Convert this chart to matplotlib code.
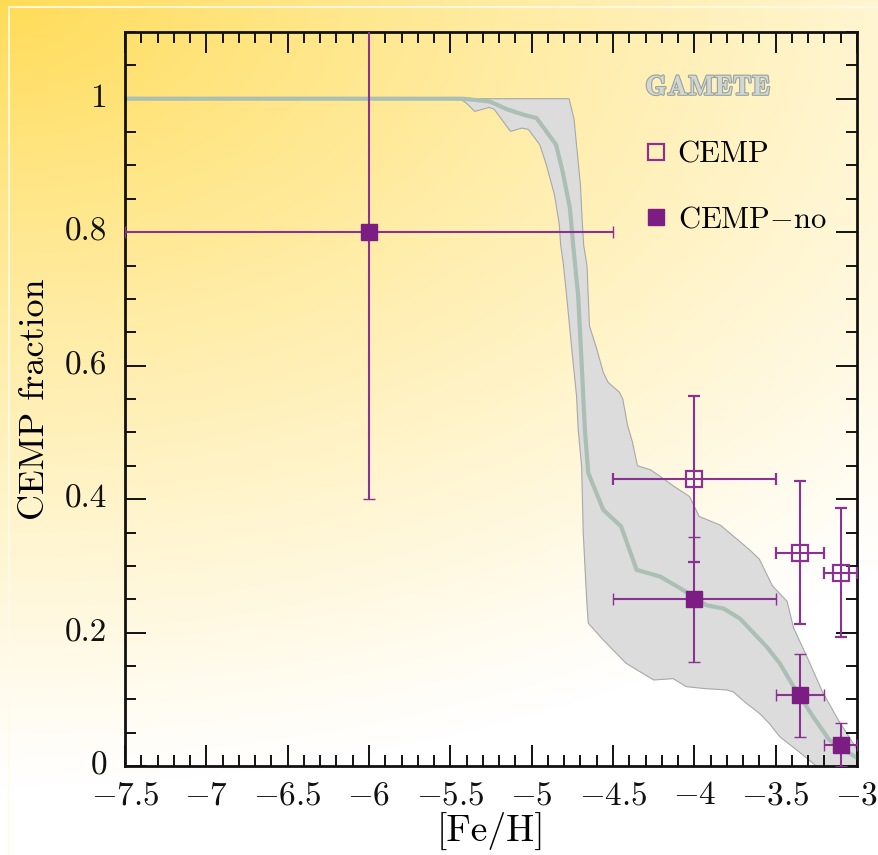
import numpy as np
import matplotlib
matplotlib.use('Agg')
import matplotlib.pyplot as plt
import matplotlib.patheffects as pe
from matplotlib.lines import Line2D
from matplotlib.ticker import MultipleLocator

plt.rcParams['font.family'] = 'cmr10'
plt.rcParams['mathtext.fontset'] = 'cm'
plt.rcParams['axes.unicode_minus'] = False

# observed CEMP fractions (open squares)
feh_cemp = [-4.0, -3.35, -3.1]
frac_cemp = [0.43, 0.32, 0.29]
yerr_cemp = [0.124, 0.107, 0.096]
xerr_cemp = [0.5, 0.15, 0.1]

# observed CEMP-no fractions (filled squares)
feh_no = [-6.0, -4.0, -3.35, -3.1]
frac_no = [0.8, 0.25, 0.106, 0.032]
yerr_no = [0.4, 0.094, 0.062, 0.032]
xerr_no = [1.5, 0.5, 0.15, 0.1]

# GAMETE model: upper / lower envelope and mean
hi_x = [-7.5, -4.77, -4.74, -4.72, -4.70, -4.69, -4.68, -4.66, -4.645, -4.60, -4.56, -4.53,
        -4.46, -4.44, -4.41, -4.38, -4.35, -4.27, -4.21, -4.13, -4.03, -3.97, -3.84, -3.66,
        -3.60, -3.52, -3.43, -3.39, -3.31, -3.21, -3.11, -3.0]
hi_y = [1.0, 1.0, 0.97, 0.92, 0.87, 0.82, 0.78, 0.75, 0.66, 0.625, 0.59, 0.575,
        0.56, 0.55, 0.51, 0.485, 0.45, 0.444, 0.434, 0.42, 0.404, 0.374, 0.361, 0.324,
        0.31, 0.27, 0.247, 0.207, 0.165, 0.11, 0.067, 0.025]
lo_x = [-7.5, -5.44, -5.40, -5.35, -5.26, -5.23, -5.13, -5.06, -5.02, -4.95, -4.91, -4.86,
        -4.83, -4.822, -4.806, -4.785, -4.765, -4.745, -4.724, -4.714, -4.693, -4.683,
        -4.662, -4.652, -4.56, -4.42, -4.25, -4.13, -4.05, -3.93, -3.80, -3.76, -3.68,
        -3.60, -3.54, -3.475, -3.37, -3.27, -3.2, -3.0]
lo_y = [1.0, 1.0, 0.993, 0.981, 0.987, 0.984, 0.951, 0.956, 0.954, 0.931, 0.901, 0.856,
        0.811, 0.781, 0.754, 0.704, 0.654, 0.604, 0.554, 0.504, 0.449, 0.349,
        0.249, 0.214, 0.189, 0.154, 0.129, 0.131, 0.119, 0.116, 0.114, 0.111, 0.094,
        0.079, 0.064, 0.044, 0.024, 0.004, -0.01, -0.03]
mean_x = [-7.5, -5.42, -5.26, -5.15, -5.05, -4.97, -4.85, -4.81, -4.765, -4.745, -4.714,
          -4.693, -4.673, -4.652, -4.56, -4.45, -4.355, -4.21, -4.07, -3.925, -3.82, -3.72,
          -3.556, -3.475, -3.39, -3.27, -3.17, -2.98]
mean_y = [1.0, 1.0, 0.996, 0.984, 0.976, 0.971, 0.931, 0.891, 0.836, 0.781, 0.704,
          0.604, 0.504, 0.439, 0.384, 0.359, 0.294, 0.284, 0.264, 0.241, 0.236, 0.221,
          0.179, 0.154, 0.119, 0.074, 0.039, 0.009]

xticks = [-7.5, -7, -6.5, -6, -5.5, -5, -4.5, -4, -3.5, -3]
xticklabels = ['$-7.5$', '$-7$', '$-6.5$', '$-6$', '$-5.5$', '$-5$', '$-4.5$', '$-4$', '$-3.5$', '$-3$']
yticks = [0, 0.2, 0.4, 0.6, 0.8, 1.0]
yticklabels = ['0', '0.2', '0.4', '0.6', '0.8', '1']

purple = '#7b1d83'
bar_col = '#8a3291'

fig = plt.figure(figsize=(8.79, 8.55), dpi=100)

# yellow-to-white backdrop
bg = fig.add_axes([0, 0, 1, 1], zorder=-10)
gx, gy = np.meshgrid(np.linspace(0, 1, 300), np.linspace(0, 1, 300))
t = np.clip(np.sqrt((gx / 1.45) ** 2 + (gy / 0.92) ** 2), 0, 1) ** 0.85
start = np.array([1.0, 0.86, 0.33])
img = start[None, None, :] * (1 - t[..., None]) + np.ones(3)[None, None, :] * t[..., None]
bg.imshow(img, extent=[0, 1, 0, 1], aspect='auto', origin='upper')
bg.axis('off')
fig.add_artist(Line2D([9 / 879, 9 / 879, 1], [0, 848 / 855, 848 / 855],
                      transform=fig.transFigure, color='#fffbea', lw=1.2))

ax = fig.add_axes([0.1422, 0.104, 0.8328, 0.8586])
ax.set_facecolor('none')

band_x = hi_x + lo_x[::-1]
band_y = hi_y + lo_y[::-1]
ax.fill(band_x, band_y, facecolor='#dcdcdc', edgecolor='#a8a8a8', lw=0.8, zorder=1)
ax.plot(mean_x, mean_y, color='#abbfb4', lw=3, zorder=2, solid_capstyle='butt')

ax.errorbar(feh_cemp, frac_cemp, xerr=xerr_cemp, yerr=yerr_cemp, fmt='s', ms=12,
            mfc='none', mec=bar_col, mew=1.6, ecolor=bar_col, elinewidth=1.5,
            capsize=4.5, capthick=1.5, zorder=4)
ax.errorbar(feh_no, frac_no, xerr=xerr_no, yerr=yerr_no, fmt='s', ms=12,
            mfc=purple, mec=purple, mew=1, ecolor=bar_col, elinewidth=1.5,
            capsize=4.5, capthick=1.5, zorder=5)

ax.set_xlim(-7.5, -3.0)
ax.set_ylim(0, 1.1)
ax.set_xticks(xticks, xticklabels)
ax.set_yticks(yticks, yticklabels)
ax.xaxis.set_minor_locator(MultipleLocator(0.1))
ax.yaxis.set_minor_locator(MultipleLocator(0.05))
ax.tick_params(which='both', direction='in', top=True, right=True, width=1.4,
               labelsize=24, colors='#111111')
ax.tick_params(which='major', length=15)
ax.tick_params(axis='x', which='major', pad=11)
ax.tick_params(axis='y', which='major', pad=13)
ax.tick_params(which='minor', length=8)
for s in ax.spines.values():
    s.set_linewidth(2)
    s.set_color('#111111')
# keep the "0" clear of the first x label
for lab in ax.get_yticklabels():
    lab.set_verticalalignment('center')

ax.set_xlabel('[Fe/H]', fontsize=27, labelpad=1)
ax.set_ylabel('CEMP fraction', fontsize=26, labelpad=10)

ax.text(0.796, 0.924, 'GAMETE', transform=ax.transAxes, ha='center', va='center',
        family='cmb10', fontsize=20, color='#d3d7d3',
        path_effects=[pe.Stroke(linewidth=1.6, foreground='#97a39c'), pe.Normal()])

handles = [Line2D([], [], ls='none', marker='s', ms=12, mfc='none', mec=bar_col, mew=1.6),
           Line2D([], [], ls='none', marker='s', ms=12, mfc=purple, mec=purple)]
ax.legend(handles, ['CEMP', 'CEMP$-$no'], loc='upper left', bbox_to_anchor=(0.688, 0.872),
          frameon=False, fontsize=22, handlelength=0.8, handletextpad=0.3,
          labelspacing=1.22, borderpad=0)

fig.savefig('out.png', dpi=100)
